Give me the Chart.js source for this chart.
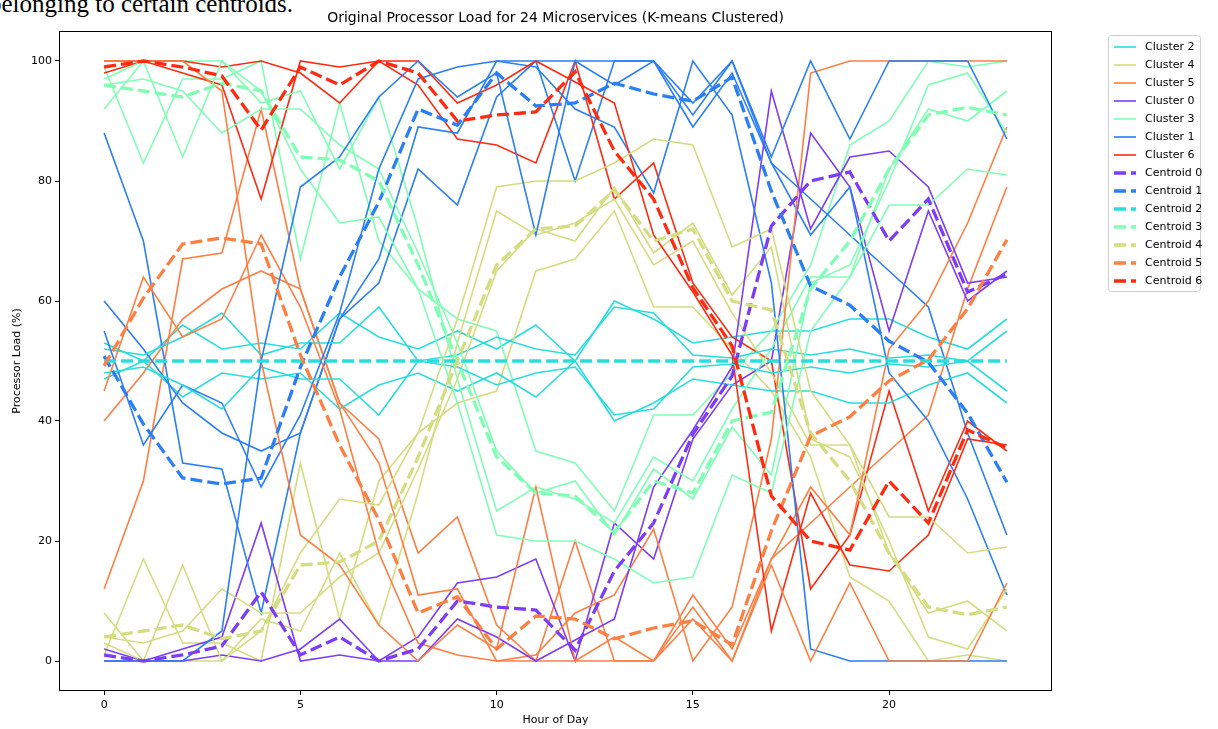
<!DOCTYPE html>
<html>
<head>
<meta charset="utf-8">
<script src="https://cdn.jsdelivr.net/npm/chart.js@4.4.1/dist/chart.umd.min.js"></script>
<style>
  body { margin: 0; background: #fff; overflow: hidden; }
  #wrap { position: relative; width: 1218px; height: 729px; }
  #note { position: absolute; left: -11px; top: -10px; font: 25px "Liberation Serif", serif; color: #000; white-space: nowrap; }
  canvas { position: absolute; left: 0; top: 0; }
</style>
</head>
<body>
<div id="wrap">
  <div id="note">belonging to certain centroids.</div>
  <canvas id="chart" width="1218" height="729" style="width:1218px;height:729px"></canvas>
</div>
<script>
// Processor load per hour, 24 services grouped in 7 clusters

var hours = [0, 1, 2, 3, 4, 5, 6, 7, 8, 9, 10, 11, 12, 13, 14, 15, 16, 17, 18, 19, 20, 21, 22, 23];
var xTicks = [0, 5, 10, 15, 20];
var yTicks = [0, 20, 40, 60, 80, 100];

// cluster 2 (cyan)
var cyanA = [53, 50, 56, 52, 53, 52, 58, 54, 52, 55, 52, 56, 50, 60, 57, 53, 54, 55, 55, 57, 57, 54, 52, 57];
var cyanB = [47, 50, 44, 48, 47, 48, 42, 46, 48, 45, 48, 44, 50, 40, 43, 47, 46, 45, 45, 43, 43, 46, 48, 43];
var cyanC = [52, 51, 54, 58, 51, 53, 53, 59, 50, 51, 54, 52, 51, 59, 58, 51, 50.5, 52, 51, 52, 50.5, 51, 50, 55];
var cyanD = [48, 49, 46, 42, 49, 47, 47, 41, 50, 49, 46, 48, 49, 41, 42, 49, 49.5, 48, 49, 48, 49.5, 49, 50, 45];

// cluster 1 (blue)
var blueA = [88, 70, 33, 32, 8, 38, 57, 63, 82, 76, 94, 100, 80, 100, 100, 89, 98, 83, 77, 71, 65, 59, 38, 21];
var blueB = [60, 52, 43, 38, 35, 38, 57, 67, 89, 88, 100, 100, 100, 96, 100, 91, 100, 83, 71, 79, 48, 40, 27, 11];
var blueC = [55, 36, 46, 43, 29, 41, 58, 82, 97, 99, 100, 99, 92, 89, 78, 100, 91, 63, 2, 0, 0, 0, 0, 0];
var blueD = [0, 0, 0, 5, 50, 79, 84, 94, 100, 94, 98, 71, 100, 100, 100, 93, 100, 84, 100, 87, 100, 100, 100, 87];

// cluster 5 (orange)
var orangeA = [12, 30, 67, 68, 92, 62, 43, 37, 18, 24, 6, 0, 20, 0, 0, 11, 2, 17, 23, 29, 35, 41, 62, 79];
var orangeB = [40, 48, 57, 62, 65, 62, 43, 33, 11, 12, 0, 0, 0, 4, 0, 9, 0, 17, 29, 21, 52, 60, 73, 89];
var orangeC = [45, 64, 54, 57, 71, 59, 42, 18, 3, 1, 0, 1, 8, 11, 22, 0, 9, 37, 98, 100, 100, 100, 100, 100];
var orangeD = [100, 100, 100, 95, 50, 21, 16, 6, 0, 6, 2, 29, 0, 0, 0, 7, 0, 16, 0, 13, 0, 0, 0, 13];

// cluster 6 (red)
var redA = [98, 100, 98, 96, 77, 100, 99, 100, 96, 87, 86, 83, 100, 77, 83, 63, 54, 50, 12, 21, 45, 25, 40, 35];
var redB = [100, 100, 100, 99, 100, 98, 93, 100, 100, 93, 96, 100, 96.5, 93, 71, 61.5, 51, 5, 28, 16, 15, 21, 37, 36];

// cluster 0 (purple)
var purpleA = [2, 0, 2, 4, 23, 0, 1, 0, 4, 13, 14, 17, 0, 23, 17, 37, 46, 50, 88, 79, 55, 75, 60, 65];
var purpleB = [0, 0, 0, 1, 0, 2, 7, 0, 0, 7, 4, 0, 3.5, 7, 29, 38.5, 49, 95, 72, 84, 85, 79, 63, 64];

// cluster 3 (light green)
var greenA = [99, 83, 97, 97, 100, 67, 93, 70, 62, 57, 55, 35, 33, 25, 41, 41, 48, 55, 66, 86, 90, 100, 99, 100];
var greenB = [97, 100, 100, 100, 93, 95, 82, 94, 72, 47, 25, 29, 27, 23, 34, 30, 42, 52, 64, 64, 82, 92, 90, 95];
var greenC = [96, 97, 95, 88, 92, 92, 86, 82, 68, 53, 35, 28, 30, 21, 32, 27, 39, 31, 63, 66, 80, 96, 98, 88];
var greenD = [92, 100, 84, 100, 95, 82, 73, 74, 62, 43, 21, 20, 20, 17, 13, 14, 31, 28, 55, 64, 76, 76, 82, 81];

// cluster 4 (yellow green)
var yellowA = [1, 17, 3, 3, 0, 33, 7, 30, 38, 43, 45, 65, 67, 75, 59, 59, 52, 45, 34, 14, 10, 0, 1, 0];
var yellowB = [3, 0, 0, 0, 7, 5, 18, 6, 28, 53, 75, 71, 73, 77, 66, 70, 58, 48, 36, 36, 18, 8, 10, 5];
var yellowC = [4, 3, 5, 12, 8, 8, 14, 18, 32, 47, 65, 72, 70, 79, 68, 73, 61, 69, 37, 34, 20, 4, 2, 12];
var yellowD = [8, 0, 16, 0, 5, 18, 27, 26, 38, 57, 79, 80, 80, 83, 87, 86, 69, 72, 45, 36, 24, 24, 18, 19];

// centroids
var cent0 = [1, 0, 1, 2.5, 11.5, 1, 4, 0, 2, 10, 9, 8.5, 1.8, 15, 23, 37.8, 47.5, 72.5, 80, 81.5, 70, 77, 61.5, 64.5];
var cent1 = [50.8, 39.5, 30.5, 29.5, 30.5, 49, 64, 76.5, 92, 89.3, 98, 92.5, 93, 96.3, 94.5, 93.3, 97.3, 78.3, 62.5, 59.3, 53.3, 49.8, 41.3, 29.8];
var cent2 = [50, 50, 50, 50, 50, 50, 50, 50, 50, 50, 50, 50, 50, 50, 50, 50, 50, 50, 50, 50, 50, 50, 50, 50];
var cent3 = [96, 95, 94, 96.3, 95, 84, 83.5, 80, 66, 50, 34, 28, 27.5, 21.5, 30, 28, 40, 41.5, 62, 70, 82, 91, 92.3, 91];
var cent4 = [4, 5, 6, 3.7, 5, 16, 16.5, 20, 34, 50, 66, 72, 72.5, 78.5, 70, 72, 60, 58.5, 38, 30, 18, 9, 7.7, 9];
var cent5 = [49.2, 60.5, 69.5, 70.5, 69.5, 51, 36, 23.5, 8, 10.7, 2, 7.5, 7, 3.7, 5.5, 6.7, 2.7, 21.7, 37.5, 40.7, 46.7, 50.2, 58.7, 70.2];
var cent6 = [99, 100, 99, 97.5, 88.5, 99, 96, 100, 98, 90, 91, 91.5, 98.2, 85, 77, 62.2, 52.5, 27.5, 20, 18.5, 30, 23, 38.5, 35.5];

var clusterColors = ["#7d3cf7", "#2a7ff6", "#2adddd", "#80ffb4", "#d4dd80", "#ff7f42", "#ff2a10"];

// services in plotting order: [values, cluster]
var services = [
  [cyanA, 2], [yellowA, 4], [orangeA, 5], [purpleA, 0], [greenA, 3], [blueA, 1], [redA, 6],
  [cyanB, 2], [yellowB, 4], [orangeB, 5], [greenB, 3], [blueB, 1], [cyanC, 2], [yellowC, 4],
  [orangeC, 5], [purpleB, 0], [greenC, 3], [blueC, 1], [redB, 6], [cyanD, 2], [yellowD, 4],
  [orangeD, 5], [greenD, 3], [blueD, 1]
];
var centroids = [cent0, cent1, cent2, cent3, cent4, cent5, cent6];

var legendLabels = ["Cluster 2", "Cluster 4", "Cluster 5", "Cluster 0", "Cluster 3", "Cluster 1", "Cluster 6",
  "Centroid 0", "Centroid 1", "Centroid 2", "Centroid 3", "Centroid 4", "Centroid 5", "Centroid 6"];
var legendClusters = [2, 4, 5, 0, 3, 1, 6, 0, 1, 2, 3, 4, 5, 6];

function toPoints(vals) {
  return hours.map(function (h, i) { return { x: h, y: vals[i] }; });
}

var datasets = [];
var total = services.length + centroids.length;
services.forEach(function (s, k) {
  datasets.push({
    data: toPoints(s[0]),
    borderColor: clusterColors[s[1]],
    borderWidth: 1.6,
    pointRadius: 0,
    order: total - k,
  });
});
centroids.forEach(function (c, k) {
  datasets.push({
    data: toPoints(c),
    borderColor: clusterColors[k],
    borderWidth: 3.3,
    borderDash: [12, 5],
    pointRadius: 0,
    order: total - services.length - k,
  });
});

var FONT = "'DejaVu Sans', sans-serif";

var extras = {
  id: "extras",
  afterDatasetsDraw: function (chart) {
    var ctx = chart.ctx, a = chart.chartArea;
    ctx.save();
    ctx.strokeStyle = "#000";
    ctx.lineWidth = 1;
    ctx.strokeRect(Math.round(a.left) + 0.5, Math.round(a.top) + 0.5,
      Math.round(a.right - a.left) - 1, Math.round(a.bottom - a.top) - 1);
    ctx.restore();
  },
  afterDraw: function (chart) {
    var ctx = chart.ctx, a = chart.chartArea;
    ctx.save();
    // title
    ctx.fillStyle = "#000";
    ctx.font = "14px " + FONT;
    ctx.textAlign = "center";
    ctx.textBaseline = "middle";
    ctx.fillText("Original Processor Load for 24 Microservices (K-means Clustered)", (a.left + a.right) / 2, 18);

    // legend
    var bx = 1108.5, by = 35.5, bw = 92, bh = 256;
    ctx.beginPath();
    ctx.roundRect(bx, by, bw, bh, 3);
    ctx.fillStyle = "rgba(255,255,255,0.8)";
    ctx.fill();
    ctx.strokeStyle = "#d0d0d0";
    ctx.lineWidth = 1;
    ctx.stroke();
    ctx.font = "11px " + FONT;
    ctx.textAlign = "left";
    legendLabels.forEach(function (lab, i) {
      var y = 47 + i * 18;
      var dashed = i >= 7;
      ctx.beginPath();
      ctx.strokeStyle = clusterColors[legendClusters[i]];
      ctx.lineWidth = dashed ? 3.3 : 1.6;
      ctx.setLineDash(dashed ? [12, 5] : []);
      ctx.moveTo(1114, y);
      ctx.lineTo(1136, y);
      ctx.stroke();
      ctx.setLineDash([]);
      ctx.fillStyle = "#000";
      ctx.fillText(lab, 1145, y);
    });
    ctx.restore();
  },
};

new Chart(document.getElementById("chart"), {
  type: "line",
  data: { datasets: datasets },
  options: {
    responsive: false,
    animation: false,
    events: [],
    layout: { padding: { left: 0, top: 31, right: 166, bottom: 0 } },
    scales: {
      x: {
        type: "linear",
        min: -1.15,
        max: 24.15,
        afterFit: function (s) { s.height = 38; },
        afterBuildTicks: function (s) { s.ticks = xTicks.map(function (v) { return { value: v }; }); },
        grid: { drawOnChartArea: false, drawTicks: true, tickLength: 4, tickColor: "#000" },
        border: { display: false },
        ticks: { color: "#000", padding: 4, maxRotation: 0, font: { family: FONT, size: 11 } },
        title: { display: true, text: "Hour of Day", color: "#000", padding: { top: 0, bottom: 2 }, font: { family: FONT, size: 11 } },
      },
      y: {
        type: "linear",
        min: -5,
        max: 105,
        afterFit: function (s) { s.width = 59; },
        afterBuildTicks: function (s) { s.ticks = yTicks.map(function (v) { return { value: v }; }); },
        grid: { drawOnChartArea: false, drawTicks: true, tickLength: 4, tickColor: "#000" },
        border: { display: false },
        ticks: { color: "#000", padding: 3, font: { family: FONT, size: 11 } },
        title: { display: true, text: "Processor Load (%)", color: "#000", padding: { top: 11, bottom: 0 }, font: { family: FONT, size: 11 } },
      },
    },
    plugins: {
      legend: { display: false },
      tooltip: { enabled: false },
    },
  },
  plugins: [extras],
});
</script>
</body>
</html>
